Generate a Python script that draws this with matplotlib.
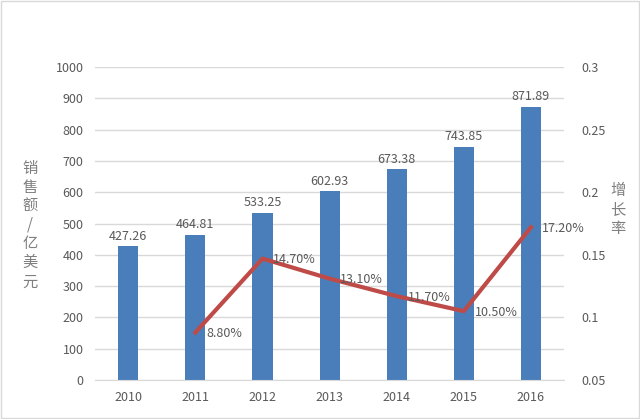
import matplotlib
matplotlib.use('Agg')
import matplotlib.pyplot as plt
import numpy as np

plt.rcParams['font.family'] = ['Noto Sans CJK SC', 'DejaVu Sans']

years = ['2010', '2011', '2012', '2013', '2014', '2015', '2016']
sales = [427.26, 464.81, 533.25, 602.93, 673.38, 743.85, 871.89]
growth_years = ['2011', '2012', '2013', '2014', '2015', '2016']
growth = [0.088, 0.147, 0.131, 0.117, 0.105, 0.172]

bar_color = '#4A7EBB'
line_color = '#BE4B48'
text_color = '#595959'
grid_color = '#D9D9D9'

fig = plt.figure(figsize=(6.4, 4.19), dpi=100)
ax = fig.add_axes([0.148, 0.093, 0.734, 0.747])

x = np.arange(len(years))
ax.bar(x, sales, width=0.3, color=bar_color, zorder=2)
for xi, v in zip(x, sales):
    ax.text(xi, v + 12, f'{v:.2f}', ha='center', va='bottom', fontsize=9, color=text_color)

ax.set_ylim(0, 1000)
ax.set_yticks(range(0, 1001, 100))
ax.set_xlim(-0.5, len(years) - 0.5)
ax.set_xticks(x)
ax.set_xticklabels(years)
ax.yaxis.grid(True, color=grid_color, linewidth=1, zorder=0)
ax.set_axisbelow(True)
for s in ['top', 'right', 'left']:
    ax.spines[s].set_visible(False)
ax.spines['bottom'].set_color(grid_color)
ax.tick_params(axis='both', length=0, labelsize=9, colors=text_color, pad=8)

ax2 = ax.twinx()
gx = [years.index(y) for y in growth_years]
ax2.plot(gx, growth, color=line_color, linewidth=3, zorder=3)
for xi, v in zip(gx, growth):
    ax2.text(xi + 0.16, v - 0.001, f'{v * 100:.2f}%', ha='left', va='center', fontsize=9, color=text_color)
ax2.set_ylim(0.05, 0.3)
ax2.set_yticks([0.05, 0.1, 0.15, 0.2, 0.25, 0.3])
ax2.set_yticklabels(['0.05', '0.1', '0.15', '0.2', '0.25', '0.3'])
for s in ['top', 'right', 'left', 'bottom']:
    ax2.spines[s].set_visible(False)
ax2.tick_params(axis='y', length=0, labelsize=9, colors=text_color, pad=12)

fig.text(0.047, 0.463, '\n'.join('销售额/亿美元'), ha='center', va='center',
         fontsize=11, color='#7F7F7F', linespacing=1.15)
fig.text(0.965, 0.50, '\n'.join('增长率'), ha='center', va='center',
         fontsize=11, color='#7F7F7F', linespacing=1.15)

fig.patches.append(plt.Rectangle((0.002, 0.002), 0.996, 0.996, transform=fig.transFigure,
                                 fill=False, edgecolor='#D9D9D9', linewidth=1))

fig.savefig('out.png', dpi=100)
